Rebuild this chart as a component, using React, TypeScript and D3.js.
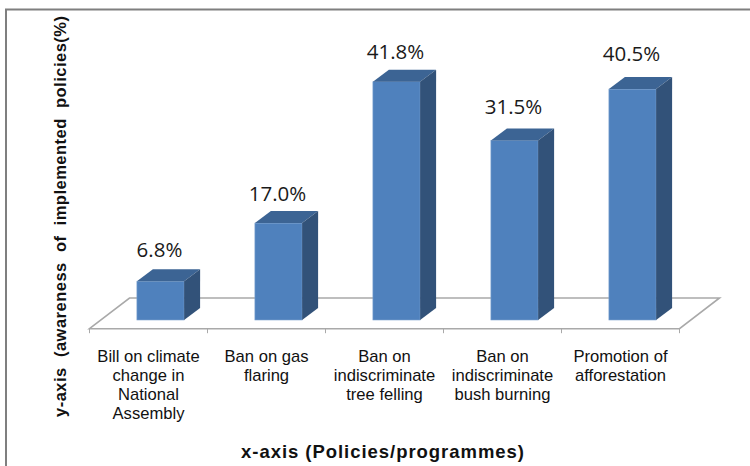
import React from "react";
import * as d3 from "d3";

const categories = ["bill", "gas", "tree", "bush", "afforestation"];
const categoryLines = [
  ["Bill on climate", "change in", "National", "Assembly"],
  ["Ban on gas", "flaring"],
  ["Ban on", "indiscriminate", "tree felling"],
  ["Ban on", "indiscriminate", "bush burning"],
  ["Promotion of", "afforestation"],
];
const awareness = [6.8, 17.0, 41.8, 31.5, 40.5];
const xTitle = "x-axis (Policies/programmes)";
const yTitle = "y-axis  (awareness  of  implemented  policies(%)";

const WIDTH = 750;
const HEIGHT = 466;
const FRONT_BASE = 320;
const AXIS_Y = 328.7;
const FLOOR_BACK_Y = 298;
const AXIS_LEFT = 89.5;
const AXIS_RIGHT = 679.5;
const FLOOR_DX = 40;
const BAR_DX = 16;
const BAR_DY = 12;
// Bars stand further back on the floor than the tick positions, hence the shift.
const BAR_SHIFT = 12;
// Height of each value label above the front top edge of its bar.
const labelLift = [24, 22, 23, 26, 28];

const x = d3
  .scaleBand<string>()
  .domain(categories)
  .range([AXIS_LEFT + BAR_SHIFT, AXIS_RIGHT + BAR_SHIFT])
  .paddingInner(0.6)
  .paddingOuter(0.3);
const ticks = d3.scaleLinear().domain([0, categories.length]).range([AXIS_LEFT, AXIS_RIGHT]);
const y = d3.scaleLinear().domain([0, 41.8]).range([FRONT_BASE, 81.7]);
const centre = d3.scaleBand<string>().domain(categories).range([AXIS_LEFT, AXIS_RIGHT]);

const LABEL_FONT = "'Liberation Sans', Arial, sans-serif";
const VALUE_FONT = "'Open Sans', sans-serif";

export default function App() {
  const bw = x.bandwidth();
  return (
    <svg
      width={WIDTH}
      height={HEIGHT}
      viewBox={`0 0 ${WIDTH} ${HEIGHT}`}
      style={{ position: "absolute", left: 0, top: 0, background: "#fff" }}
    >
      {/* outer frame: top and left rules only */}
      <path d={`M6 466V9.5H750`} fill="none" stroke="#7f7f7f" strokeWidth={2} />

      {/* floor of the 3D plot */}
      <path
        d={`M${AXIS_LEFT} ${AXIS_Y}L${AXIS_LEFT + FLOOR_DX} ${FLOOR_BACK_Y}H${AXIS_RIGHT + FLOOR_DX}L${AXIS_RIGHT} ${AXIS_Y}Z`}
        fill="#fff"
        stroke="#a9a9a9"
        strokeWidth={1.6}
      />
      {d3.range(categories.length + 1).map((i) => (
        <line key={i} x1={ticks(i)} x2={ticks(i)} y1={AXIS_Y} y2={AXIS_Y + 4.5} stroke="#a9a9a9" strokeWidth={1} />
      ))}

      {categories.map((c, i) => {
        const left = x(c)!;
        const top = y(awareness[i]);
        const right = left + bw;
        return (
          <g key={c}>
            <rect x={left} y={top} width={bw} height={FRONT_BASE - top} fill="#4f81bd" stroke="#7fa3cf" strokeWidth={0.6} />
            <path
              d={`M${left} ${top}L${left + BAR_DX} ${top - BAR_DY}H${right + BAR_DX}L${right} ${top}Z`}
              fill="#3c6494"
            />
            <path
              d={`M${right} ${top}L${right + BAR_DX} ${top - BAR_DY}V${FRONT_BASE - BAR_DY}L${right} ${FRONT_BASE}Z`}
              fill="#325279"
            />
            <text
              x={left + bw / 2 - 1}
              y={top - labelLift[i]}
              textAnchor="middle"
              fontFamily={VALUE_FONT}
              fontSize={20.5}
              fill="#1a1a1a"
            >
              {awareness[i].toFixed(1)}%
            </text>
          </g>
        );
      })}

      {categories.map((c, i) => (
        <text key={c} textAnchor="middle" fontFamily={LABEL_FONT} fontSize={16.6} fill="#111">
          {categoryLines[i].map((line, j) => (
            <tspan key={j} x={centre(c)! + centre.bandwidth() / 2} y={362 + j * 19}>
              {line}
            </tspan>
          ))}
        </text>
      ))}

      <text
        x={382.5}
        y={458}
        textAnchor="middle"
        fontFamily={LABEL_FONT}
        fontSize={18.5}
        fontWeight="bold"
        fill="#111"
        textLength={283}
      >
        {xTitle}
      </text>
      <text
        transform="translate(66 216.5) rotate(-90)"
        textAnchor="middle"
        fontFamily={LABEL_FONT}
        fontSize={16.5}
        fontWeight="bold"
        fill="#111"
        xmlSpace="preserve"
        textLength={401}
      >
        {yTitle}
      </text>
    </svg>
  );
}
